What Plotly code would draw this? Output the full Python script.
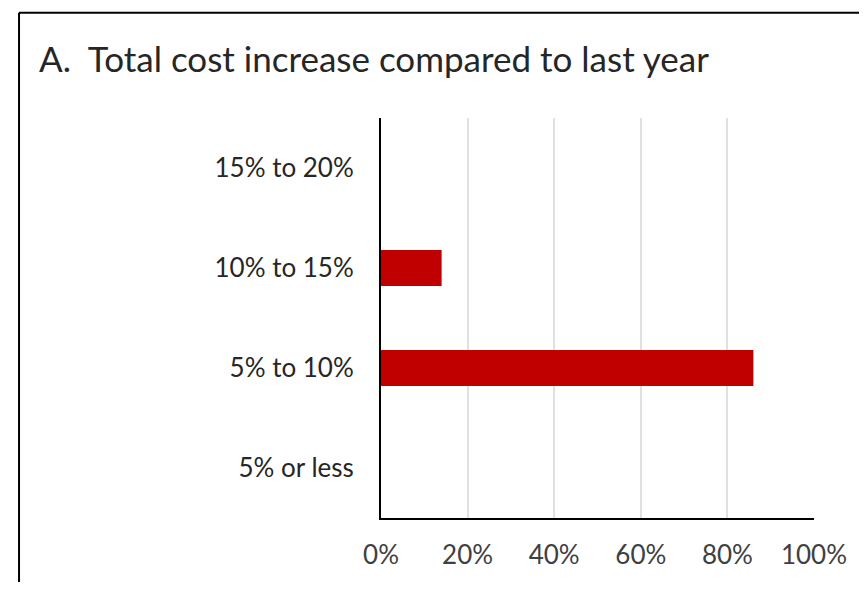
import plotly.graph_objects as go

categories = ["5% or less", "5% to 10%", "10% to 15%", "15% to 20%"]
values = [0, 86, 14, 0]
tick_vals = [0, 20, 40, 60, 80, 100]
tick_text = ["0%", "20%", "40%", "60%", "80%", "100%"]
title = "A.  Total cost increase compared to last year"

# page has an 8px body margin; figure sized so the page fits the 867x590 window
OFF = 8
W, H = 867 - 2 * OFF, 590 - 2 * OFF
L = 381 - OFF
R = (OFF + W) - 826
T = 118 - OFF
B = (OFF + H) - 521
pw = W - L - R
ph = H - T - B

def px_x(x):
    return (x - OFF - L) / pw

def px_y(y):
    return (H - B - (y - OFF)) / ph

fig = go.Figure(go.Bar(
    y=categories, x=values, orientation="h",
    marker=dict(color="#c00000", line=dict(width=0)),
    width=0.36,
))

font = "Lato, Carlito, Open Sans, sans-serif"
fig.update_layout(
    width=W, height=H,
    margin=dict(l=L, r=R, t=T, b=B),
    paper_bgcolor="white", plot_bgcolor="white",
    showlegend=False,
    xaxis=dict(range=[0, 100], tickvals=tick_vals, ticktext=tick_text,
               showgrid=True, gridcolor="#e0e0e0", gridwidth=1.5,
               showline=True, linecolor="black", linewidth=2,
               zeroline=False, ticks="", ticklabelstandoff=13,
               ticklabeloverflow="allow",
               tickfont=dict(family=font, size=26, color="#404040")),
    yaxis=dict(categoryorder="array", categoryarray=categories,
               range=[-0.5, 3.5],
               showgrid=False, showline=True, linecolor="black", linewidth=2,
               zeroline=False, ticks="", ticklabelstandoff=20,
               tickfont=dict(family=font, size=26, color="#262626")),
    annotations=[dict(text=title, x=px_x(27), y=px_y(58), xref="paper", yref="paper",
                      xanchor="left", yanchor="middle", showarrow=False,
                      font=dict(family=font, size=35, color="#262626"))],
    shapes=[
        dict(type="line", xref="paper", yref="paper", x0=px_x(OFF + 1), x1=px_x(900),
             y0=px_y(12), y1=px_y(12), line=dict(color="black", width=2)),
        dict(type="line", xref="paper", yref="paper", x0=px_x(OFF + 1), x1=px_x(OFF + 1),
             y0=px_y(12), y1=px_y(620), line=dict(color="black", width=2)),
    ],
)

fig.write_html("out.html", config={"displayModeBar": False})
